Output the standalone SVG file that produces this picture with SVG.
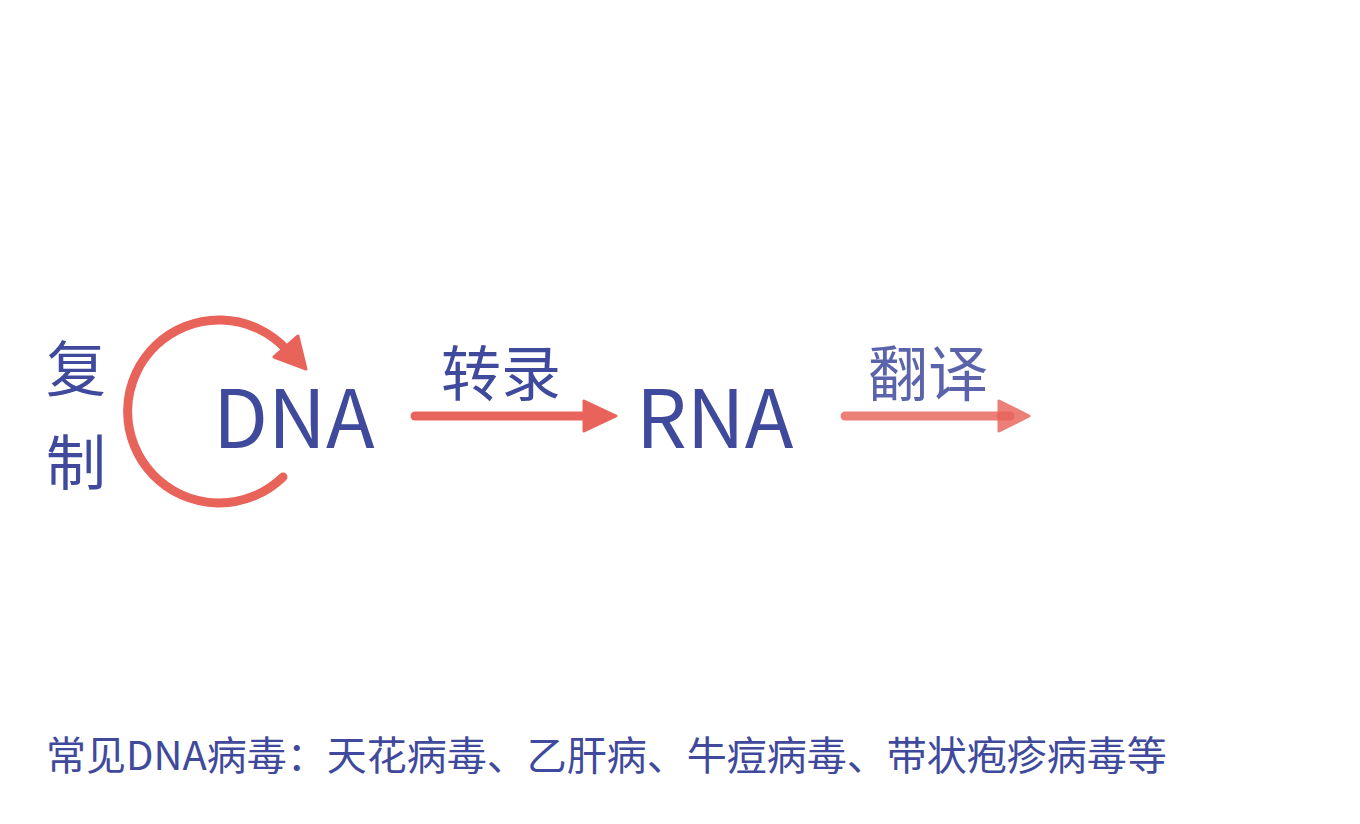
<svg xmlns="http://www.w3.org/2000/svg" width="1360" height="824" viewBox="0 0 1360 824">
<style>
.t{font-family:"Noto Sans CJK SC","Noto Sans",sans-serif;fill:#3F4A9C}
.big{font-size:80px}
.lab{font-size:60px}
.foot{font-size:40px}
.ln{fill:none;stroke:#E8635A;stroke-width:9;stroke-linecap:round}
.hd{fill:#E8635A;stroke:#E8635A;stroke-width:3;stroke-linejoin:round}
.fade{opacity:0.82}
</style>
<rect width="1360" height="824" fill="#FFFFFF"/>
<g id="connectors">
<g id="replication-arrow">
<path class="ln" d="M283,477 A91.5,91.5 0 1 1 286,349"/>
<polygon class="hd" points="306,369 274,357 298,336"/>
</g>
<g id="transcription-arrow">
<line class="ln" x1="415" y1="416" x2="590" y2="416"/>
<polygon class="hd" points="616,416 584,401 584,431"/>
</g>
<g id="translation-arrow">
<line class="ln fade" x1="845" y1="416" x2="1010" y2="416"/>
<polygon class="hd fade" points="1029,416 999,401 999,431"/>
</g>
</g>
<g id="label-replication">
<text class="t lab" x="46" y="391">复</text>
<text class="t lab" x="46" y="485">制</text>
</g>
<g id="node-DNA"><text class="t big" x="213" y="448">DNA</text></g>
<g id="label-transcription"><text class="t lab" x="441" y="396">转录</text></g>
<g id="node-RNA"><text class="t big" x="636" y="448">RNA</text></g>
<g id="label-translation" opacity="0.85"><text class="t lab" x="868" y="396">翻译</text></g>
<g id="footnote"><text class="t foot" x="46" y="770">常见DNA病毒：天花病毒、乙肝病、牛痘病毒、带状疱疹病毒等</text></g>
</svg>
